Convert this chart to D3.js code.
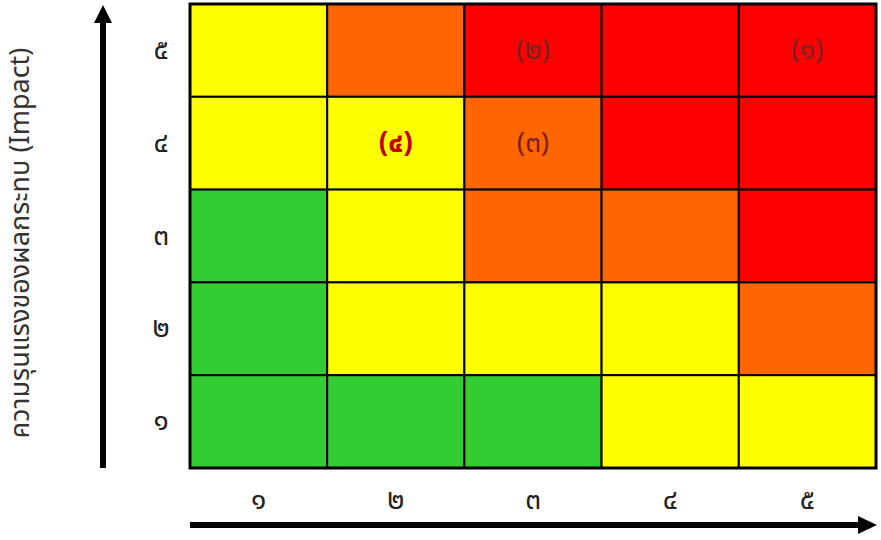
<!DOCTYPE html>
<html>
<head>
<meta charset="utf-8">
<script src="https://cdn.jsdelivr.net/npm/d3@7"></script>
<style>
  html, body { margin: 0; padding: 0; background: #fff; }
  svg text { font-family: "Noto Sans Thai", "Noto Sans", "DejaVu Sans", sans-serif; }
</style>
</head>
<body>
<svg id="chart" width="881" height="540"></svg>
<script>
// Likelihood (x) categories and Impact (y) categories
const xCategories = ["๑", "๒", "๓", "๔", "๕"];
const yCategories = ["๑", "๒", "๓", "๔", "๕"];
// Risk level of each cell, rows listed from impact ๕ (top) down to ๑ (bottom)
const rowImpact = ["๕", "๔", "๓", "๒", "๑"];
const cellLevels = [
  ["medium", "high", "extreme", "extreme", "extreme"],
  ["medium", "medium", "high", "extreme", "extreme"],
  ["low", "medium", "high", "high", "extreme"],
  ["low", "medium", "medium", "medium", "high"],
  ["low", "low", "low", "medium", "medium"]
];
const levelColors = { low: "#33CC33", medium: "#FFFF00", high: "#FF6600", extreme: "#FF0000" };
// Risk items placed in the matrix
const riskLabels = ["(๑)", "(๒)", "(๓)", "(๔)"];
const riskX = ["๕", "๓", "๓", "๒"];
const riskY = ["๕", "๕", "๔", "๔"];
const yTitle = "ความรุนแรงของผลกระทบ (Impact)";

(function () {
const svg = d3.select("#chart");
const gLeft = 190, gRight = 876, gTop = 4, gBottom = 468;

const x = d3.scaleBand().domain(xCategories).range([gLeft, gRight]).padding(0);
const y = d3.scaleBand().domain(yCategories).range([gBottom, gTop]).padding(0);

const cells = [];
rowImpact.forEach((yi, r) => {
  xCategories.forEach((xi, c) => cells.push({ x: xi, y: yi, level: cellLevels[r][c] }));
});

svg.append("g").selectAll("rect").data(cells).join("rect")
  .attr("x", d => x(d.x))
  .attr("y", d => y(d.y))
  .attr("width", x.bandwidth())
  .attr("height", y.bandwidth())
  .attr("fill", d => levelColors[d.level])
  .attr("stroke", "#000")
  .attr("stroke-width", 2);

svg.append("rect")
  .attr("x", gLeft).attr("y", gTop)
  .attr("width", gRight - gLeft).attr("height", gBottom - gTop)
  .attr("fill", "none").attr("stroke", "#000").attr("stroke-width", 3);

// Risk labels
svg.append("g").selectAll("text").data(riskLabels).join("text")
  .attr("x", (d, i) => x(riskX[i]) + x.bandwidth() / 2)
  .attr("y", (d, i) => y(riskY[i]) + y.bandwidth() / 2)
  .attr("text-anchor", "middle")
  .attr("dominant-baseline", "central")
  .attr("font-size", 28)
  .attr("font-weight", d => d === "(๔)" ? "bold" : "normal")
  .attr("fill", d => d === "(๔)" ? "#C00000" : "#7A2222")
  .text(d => d);

// Axes (tick labels only)
const xAxis = d3.axisBottom(x).tickSize(0).tickPadding(0);
const gx = svg.append("g").attr("transform", `translate(0,${500})`).call(xAxis);
gx.select(".domain").remove();
gx.attr("font-family", null);
gx.selectAll("text").attr("font-size", 28).attr("fill", "#222")
  .attr("dy", "0").attr("dominant-baseline", "central");

const yAxis = d3.axisLeft(y).tickSize(0).tickPadding(0);
const gy = svg.append("g").attr("transform", `translate(${161},0)`).call(yAxis);
gy.select(".domain").remove();
gy.attr("font-family", null);
gy.selectAll("text").attr("font-size", 28).attr("fill", "#222")
  .attr("text-anchor", "middle")
  .attr("dy", "0").attr("dominant-baseline", "central");

// Arrows
svg.append("line").attr("x1", 103).attr("y1", gBottom).attr("x2", 103).attr("y2", 22)
  .attr("stroke", "#000").attr("stroke-width", 6);
svg.append("path").attr("d", "M94,23 L103,5 L112,23 Z").attr("fill", "#000");

svg.append("line").attr("x1", gLeft).attr("y1", 525).attr("x2", 859).attr("y2", 525)
  .attr("stroke", "#000").attr("stroke-width", 6);
svg.append("path").attr("d", "M858,516 L877,525 L858,534 Z").attr("fill", "#000");

// Y title
svg.append("text")
  .attr("transform", `translate(29,${243}) rotate(-90)`)
  .attr("text-anchor", "middle")
  .attr("font-size", 27)
  .attr("fill", "#333")
  .text(yTitle);
})();
</script>
</body>
</html>
